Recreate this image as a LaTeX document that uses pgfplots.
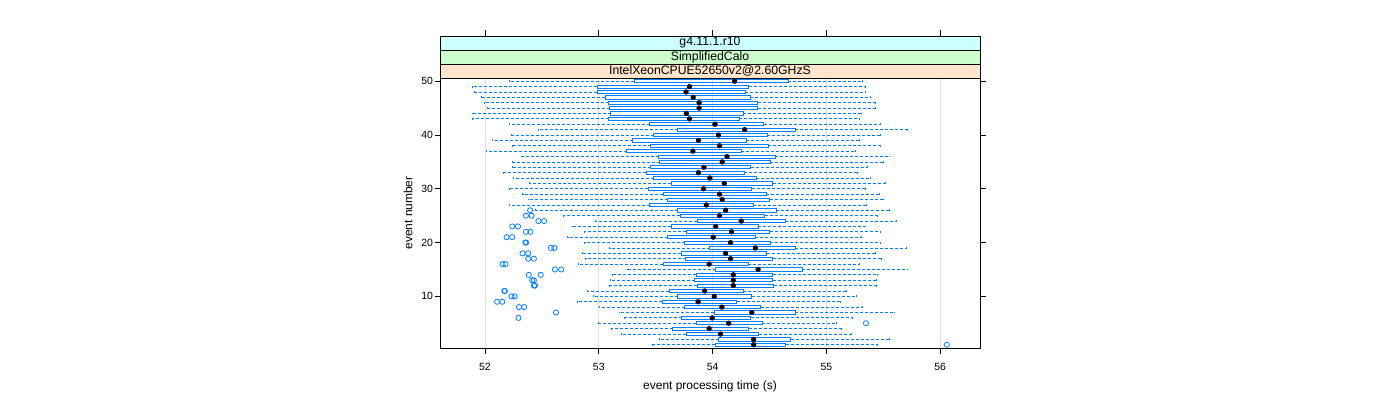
\documentclass[border=0pt]{standalone}
\usepackage{fontspec}
\setmainfont{Liberation Sans}
\usepackage{pgfplots}
\pgfplotsset{compat=1.18}
\usepgfplotslibrary{statistics}
\definecolor{bpblue}{HTML}{0080FF}
\definecolor{stripA}{HTML}{FFE5CC}
\definecolor{stripB}{HTML}{CCFFCC}
\definecolor{stripC}{HTML}{CCFFFF}
\pgfplotsset{
  bpstyle/.style={
    draw=bpblue, solid, line width=0.8bp,
    boxplot/draw direction=x,
    boxplot/box extend=0.6,
    boxplot/whisker extend=0.35,
    boxplot/every box/.style={draw=bpblue, solid, line width=0.8bp},
    boxplot/draw/median/.code={},
    boxplot/draw/lower whisker/.code={%
      \draw[draw=bpblue, line width=0.8bp, dash pattern=on 3bp off 2bp]
        (boxplot box cs:\pgfplotsboxplotvalue{lower quartile},0.5) --
        (boxplot box cs:\pgfplotsboxplotvalue{lower whisker},0.5);
      \draw[draw=bpblue, solid, line width=0.8bp]
        (boxplot whisker cs:\pgfplotsboxplotvalue{lower whisker},0) --
        (boxplot whisker cs:\pgfplotsboxplotvalue{lower whisker},1);},
    boxplot/draw/upper whisker/.code={%
      \draw[draw=bpblue, line width=0.8bp, dash pattern=on 3bp off 2bp]
        (boxplot box cs:\pgfplotsboxplotvalue{upper quartile},0.5) --
        (boxplot box cs:\pgfplotsboxplotvalue{upper whisker},0.5);
      \draw[draw=bpblue, solid, line width=0.8bp]
        (boxplot whisker cs:\pgfplotsboxplotvalue{upper whisker},0) --
        (boxplot whisker cs:\pgfplotsboxplotvalue{upper whisker},1);},
  },
  meddot/.style={only marks, mark=*, mark size=2.5bp,
    mark options={draw=black, fill=black, solid, line width=0.2bp}},
}
\newcommand{\bp}[6]{\addplot[bpstyle, boxplot prepared={draw position=#1,
  lower whisker=#2, lower quartile=#3, median=#4, upper quartile=#5, upper whisker=#6}] coordinates {};
  \addplot[meddot] coordinates {(#4,#1)};}
\begin{document}
\begin{tikzpicture}
\useasboundingbox (0,0) rectangle (1400bp,400bp);
\begin{axis}[
  name=ax,
  at={(440bp,52bp)}, anchor=south west,
  scale only axis, width=540bp, height=270bp,
  xmin=51.605, xmax=56.35, ymin=0.4, ymax=50.6,
  xtick={52,53,54,55,56}, ytick={10,20,30,40,50},
  xtick pos=left, ytick pos=both,
  tick align=outside, major tick length=5.5bp,
  tick style={black, line width=0.6bp},
  axis line style={black, line width=0.8bp},
  xmajorgrids, grid style={black!12, line width=0.6bp},
  ticklabel style={font=\fontsize{10.5}{12}\selectfont},
  xticklabel style={yshift=-6bp},
  yticklabel style={xshift=2bp},
  /pgf/number format/assume math mode=true,
  xlabel={event processing time (s)}, ylabel={event number},
  label style={font=\fontsize{12}{14}\selectfont},
  xlabel style={at={(rel axis cs:0.5,-0.144)}, anchor=center},
  ylabel style={at={(rel axis cs:-0.0593,0.5)}, anchor=center},
]
\bp{50}{52.218}{53.309}{54.194}{54.664}{55.318}
\bp{49}{51.894}{52.988}{53.797}{54.318}{55.342}
\bp{48}{51.903}{52.988}{53.767}{54.285}{55.342}
\bp{47}{51.973}{53.055}{53.830}{54.330}{55.385}
\bp{46}{51.997}{53.088}{53.882}{54.397}{55.433}
\bp{45}{52.021}{53.097}{53.882}{54.397}{55.433}
\bp{44}{51.894}{53.106}{53.770}{54.270}{55.312}
\bp{43}{51.894}{53.088}{53.797}{54.236}{55.294}
\bp{42}{52.215}{53.448}{54.021}{54.448}{55.473}
\bp{41}{52.467}{53.694}{54.282}{54.727}{55.709}
\bp{40}{52.233}{53.482}{54.052}{54.479}{55.479}
\bp{39}{52.064}{53.297}{53.876}{54.297}{55.288}
\bp{38}{52.242}{53.458}{54.061}{54.488}{55.476}
\bp{37}{52.012}{53.245}{53.827}{54.252}{55.252}
\bp{36}{52.324}{53.527}{54.127}{54.548}{55.552}
\bp{35}{52.242}{53.536}{54.085}{54.506}{55.497}
\bp{34}{52.239}{53.458}{53.924}{54.336}{55.358}
\bp{33}{52.158}{53.415}{53.876}{54.276}{55.270}
\bp{32}{52.252}{53.482}{53.976}{54.385}{55.385}
\bp{31}{52.391}{53.636}{54.103}{54.527}{55.518}
\bp{30}{52.215}{53.436}{53.921}{54.345}{55.345}
\bp{29}{52.333}{53.564}{54.061}{54.470}{55.470}
\bp{28}{52.382}{53.606}{54.085}{54.503}{55.497}
\bp{27}{52.215}{53.448}{53.945}{54.355}{55.348}
\bp{26}{52.442}{53.694}{54.115}{54.558}{55.558}
\bp{25}{52.691}{53.718}{54.061}{54.458}{55.445}
\bp{24}{52.967}{53.867}{54.252}{54.636}{55.612}
\bp{23}{52.764}{53.636}{54.027}{54.400}{55.342}
\bp{22}{52.876}{53.767}{54.167}{54.503}{55.473}
\bp{21}{52.727}{53.606}{54.006}{54.376}{55.312}
\bp{20}{52.876}{53.755}{54.158}{54.506}{55.473}
\bp{19}{53.097}{53.976}{54.376}{54.727}{55.700}
\bp{18}{52.852}{53.727}{54.115}{54.476}{55.427}
\bp{17}{52.885}{53.764}{54.158}{54.527}{55.482}
\bp{16}{52.824}{53.564}{53.970}{54.315}{55.288}
\bp{15}{53.255}{54.027}{54.400}{54.785}{55.709}
\bp{14}{53.121}{53.855}{54.182}{54.527}{55.448}
\bp{13}{53.103}{53.842}{54.182}{54.527}{55.439}
\bp{12}{53.097}{53.864}{54.182}{54.536}{55.436}
\bp{11}{52.897}{53.618}{53.930}{54.267}{55.173}
\bp{10}{52.955}{53.694}{54.015}{54.345}{55.264}
\bp{9}{52.815}{53.558}{53.873}{54.212}{55.121}
\bp{8}{53.003}{53.755}{54.082}{54.424}{55.318}
\bp{7}{53.185}{54.015}{54.345}{54.724}{55.600}
\bp{6}{53.224}{53.730}{53.997}{54.336}{55.233}
\bp{5}{52.997}{53.855}{54.142}{54.436}{55.091}
\bp{4}{53.112}{53.648}{53.970}{54.318}{55.136}
\bp{3}{53.203}{53.767}{54.070}{54.406}{55.221}
\bp{2}{53.536}{54.055}{54.361}{54.688}{55.558}
\bp{1}{53.470}{54.021}{54.361}{54.642}{55.445}
% outliers
\addplot[only marks, mark=o, mark size=2.6bp, mark options={draw=bpblue, line width=0.8bp}]
coordinates {
(52.397,26)
(52.36,25) (52.41,25)
(52.47,24) (52.52,24)
(52.24,23) (52.29,23)
(52.36,22) (52.40,22)
(52.19,21) (52.24,21)
(52.355,20) (52.362,20)
(52.58,19) (52.61,19)
(52.33,18) (52.38,18)
(52.38,17) (52.43,17)
(52.155,16) (52.18,16)
(52.615,15) (52.67,15)
(52.385,14) (52.49,14)
(52.415,13) (52.43,13)
(52.43,12) (52.44,12)
(52.17,11) (52.175,11)
(52.233,10) (52.26,10)
(52.106,9) (52.152,9)
(52.30,8) (52.345,8)
(52.624,7)
(52.294,6)
(55.348,5)
(56.058,1)
};
\coordinate (T52) at (axis cs:52,50.6);
\coordinate (T53) at (axis cs:53,50.6);
\coordinate (T54) at (axis cs:54,50.6);
\coordinate (T55) at (axis cs:55,50.6);
\coordinate (T56) at (axis cs:56,50.6);
\end{axis}
\begin{scope}[line width=0.8bp]
\draw[fill=stripA] (ax.north west) rectangle ([yshift=14bp]ax.north east);
\draw[fill=stripB] ([yshift=14bp]ax.north west) rectangle ([yshift=28bp]ax.north east);
\draw[fill=stripC] ([yshift=28bp]ax.north west) rectangle ([yshift=42bp]ax.north east);
\end{scope}
\path ([yshift=7bp]ax.north) node[font=\fontsize{12.3}{14}\selectfont] {IntelXeonCPUE52650v2@2.60GHzS};
\path ([yshift=21bp]ax.north) node[font=\fontsize{12.3}{14}\selectfont] {SimplifiedCalo};
\path ([yshift=35bp]ax.north) node[font=\fontsize{12.3}{14}\selectfont] {g4.11.1.r10};
\foreach \t in {T52,T53,T54,T55,T56}{
  \draw[black, line width=0.6bp] ([yshift=42bp]\t) -- ([yshift=47.5bp]\t);
}
\end{tikzpicture}
\end{document}
